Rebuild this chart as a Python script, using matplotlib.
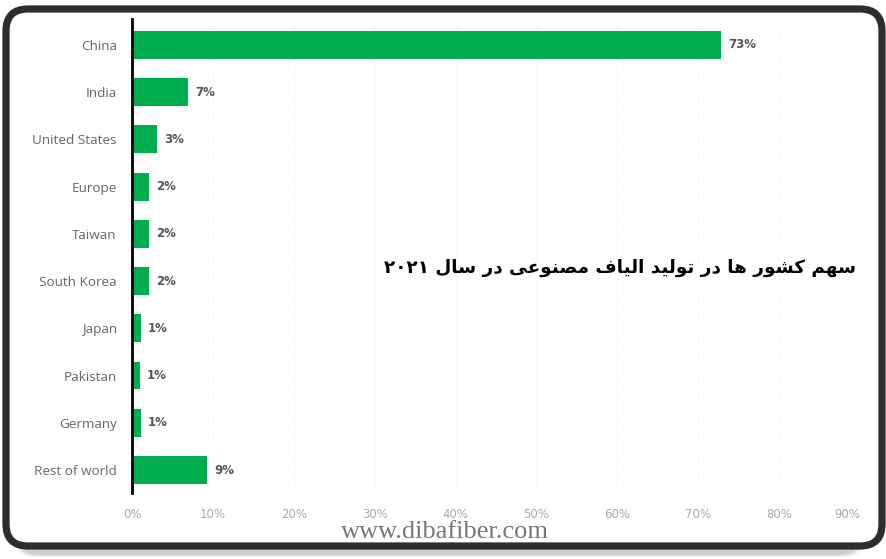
import matplotlib
matplotlib.use("Agg")
import matplotlib.pyplot as plt
from matplotlib.patches import FancyBboxPatch
import numpy as np

countries = ["China", "India", "United States", "Europe", "Taiwan", "South Korea",
             "Japan", "Pakistan", "Germany", "Rest of world"]
shares = [72.8, 6.9, 3.1, 2.1, 2.1, 2.1, 1.1, 1.0, 1.1, 9.3]
value_labels = ["73%", "7%", "3%", "2%", "2%", "2%", "1%", "1%", "1%", "9%"]
x_ticks = [0, 10, 20, 30, 40, 50, 60, 70, 80, 90]
x_tick_labels = ["0%", "10%", "20%", "30%", "40%", "50%", "60%", "70%", "80%", "90%"]
title_fa = "سهم کشور ها در تولید الیاف مصنوعی در سال ۲۰۲۱"
watermark = "www.dibafiber.com"

# --- minimal Persian reshaper (presentation forms + visual order) ---
FORMS = {  # isolated, final, initial, medial
    "\u0627": ("\uFE8D", "\uFE8E", None, None),
    "\u062F": ("\uFEA9", "\uFEAA", None, None),
    "\u0631": ("\uFEAD", "\uFEAE", None, None),
    "\u0648": ("\uFEED", "\uFEEE", None, None),
    "\u0633": ("\uFEB1", "\uFEB2", "\uFEB3", "\uFEB4"),
    "\u0634": ("\uFEB5", "\uFEB6", "\uFEB7", "\uFEB8"),
    "\u0635": ("\uFEB9", "\uFEBA", "\uFEBB", "\uFEBC"),
    "\u0639": ("\uFEC9", "\uFECA", "\uFECB", "\uFECC"),
    "\u0641": ("\uFED1", "\uFED2", "\uFED3", "\uFED4"),
    "\u0644": ("\uFEDD", "\uFEDE", "\uFEDF", "\uFEE0"),
    "\u0645": ("\uFEE1", "\uFEE2", "\uFEE3", "\uFEE4"),
    "\u0646": ("\uFEE5", "\uFEE6", "\uFEE7", "\uFEE8"),
    "\u0647": ("\uFEE9", "\uFEEA", "\uFEEB", "\uFEEC"),
    "\u062A": ("\uFE95", "\uFE96", "\uFE97", "\uFE98"),
    "\u06A9": ("\uFB8E", "\uFB8F", "\uFB90", "\uFB91"),
    "\u06CC": ("\uFBFC", "\uFBFD", "\uFBFE", "\uFBFF"),
}


def reshape(text):
    out = []
    n = len(text)
    for i, ch in enumerate(text):
        if ch not in FORMS:
            out.append(ch)
            continue
        iso, fin, ini, med = FORMS[ch]
        prev = text[i - 1] if i > 0 else None
        nxt = text[i + 1] if i + 1 < n else None
        prev_c = prev in FORMS and FORMS[prev][2] is not None
        next_c = ini is not None and nxt in FORMS
        if prev_c and next_c:
            out.append(med)
        elif prev_c:
            out.append(fin)
        elif next_c:
            out.append(ini)
        else:
            out.append(iso)
    vis = "".join(out)[::-1]
    res, run = [], []
    for ch in vis:
        if "\u06F0" <= ch <= "\u06F9" or ch.isdigit():
            run.append(ch)
        else:
            if run:
                res.extend(run[::-1]); run = []
            res.append(ch)
    if run:
        res.extend(run[::-1])
    return "".join(res)


W, H = 887, 559
fig = plt.figure(figsize=(W / 100, H / 100), dpi=100)
fig.patch.set_facecolor("white")

bg = fig.add_axes([0, 0, 1, 1])
bg.set_xlim(0, W)
bg.set_ylim(H, 0)
bg.axis("off")
for k, a in enumerate([0.10, 0.14, 0.18]):
    bg.add_patch(FancyBboxPatch((14 + k * 2, 30 + k * 2), 850 - k * 4, 527 - k * 3,
                                boxstyle="round,pad=0,rounding_size=20",
                                fc=(0.5, 0.5, 0.5, a), ec="none", zorder=0))
bg.add_patch(FancyBboxPatch((6, 9), 876, 537,
                            boxstyle="round,pad=0,rounding_size=22",
                            fc="white", ec="#2d2d2d", lw=5.2, zorder=1))

x0, x1 = 132, 860
ytop, ybot = 19, 493
ax = fig.add_axes([x0 / W, 1 - ybot / H, (x1 - x0) / W, (ybot - ytop) / H])
ax.set_facecolor("none")
y = np.arange(len(countries))
ax.barh(y, shares, height=0.59, color="#00AC4E", zorder=3)
ax.set_xlim(0, 90)
ax.set_ylim(9.487, -0.55)
ax.set_yticks(y)
ax.set_yticklabels(countries, fontsize=9.7, color="#666666", family="Open Sans")
ax.set_xticks(x_ticks)
ax.set_xticklabels(x_tick_labels, fontsize=8.5, color="#aaaaaa", family="DejaVu Sans")
ax.get_xticklabels()[-1].set_ha("right")
ax.tick_params(axis="y", length=0, pad=11)
ax.tick_params(axis="x", length=0, pad=11)
for s in ["top", "right", "bottom"]:
    ax.spines[s].set_visible(False)
ax.spines["left"].set_color("black")
ax.spines["left"].set_linewidth(2)
ax.spines["left"].set_zorder(5)
ax.grid(axis="x", color="#eeeeee", lw=0.8, ls=(0, (1, 2)), zorder=0)

for yi, v, lab in zip(y, shares, value_labels):
    ax.annotate(lab, (v, yi), xytext=(5, 0), textcoords="offset points",
                va="center", ha="left", fontsize=8.5, fontweight="bold",
                color="#555555", family="DejaVu Sans")

fig.text(620 / W, 1 - 268 / H, reshape(title_fa), ha="center", va="center",
         fontsize=13.2, fontweight="bold", color="black", family="DejaVu Sans")
fig.text(445 / W, 1 - 532 / H, watermark, ha="center", va="center",
         fontsize=19, color="#777777", family="Liberation Serif")

fig.savefig("out.png", dpi=100)
